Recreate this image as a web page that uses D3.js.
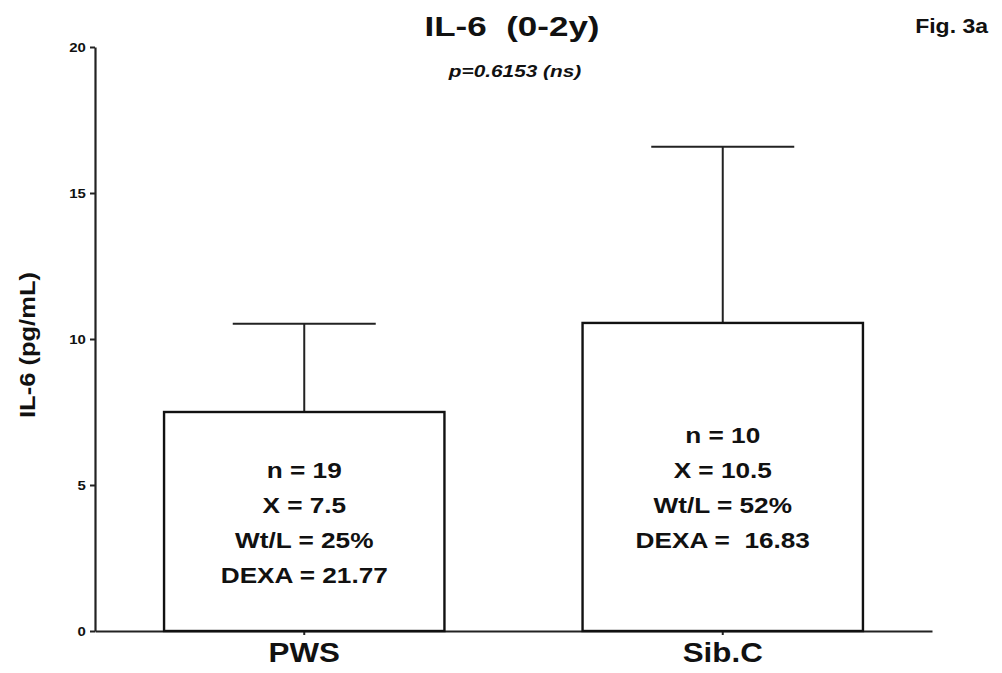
<!DOCTYPE html>
<html>
<head>
<meta charset="utf-8">
<script src="https://cdn.jsdelivr.net/npm/d3@7"></script>
<style>
  body { margin: 0; background: #fff; }
  text { font-family: "Liberation Sans", Arial, sans-serif; font-weight: bold; fill: #111; }
</style>
</head>
<body>
<div id="grafica"></div>
<script>
// datos
var grupos = ['PWS', 'Sib.C']
var medias = [7.5, 10.55]
var errores = [10.52, 16.58]
var etiquetas = [
    ['n = 19', 'X = 7.5', 'Wt/L = 25%', 'DEXA = 21.77'],
    ['n = 10', 'X = 10.5', 'Wt/L = 52%', 'DEXA =  16.83']
]
var etiquetaY = [5.5, 6.7]   // altura (en pg/mL) de la primera linea de texto
var ticksY = [0, 5, 10, 15, 20]

var W = 1002, H = 673
var fuente = '"Liberation Sans", Arial, sans-serif'

var svg = d3.select('#grafica').append('svg')
    .attr('width', W)
    .attr('height', H)

// la figura original esta algo estirada en horizontal
function texto(x, y, t, size, sx, anchor, extra) {
    var g = svg.append('g')
        .attr('transform', 'translate(' + x + ',' + y + ')' + (extra || '') + ' scale(' + sx + ',1)')
    return g.append('text')
        .attr('text-anchor', anchor || 'middle')
        .style('font-size', size + 'px')
        .style('white-space', 'pre')
        .text(t)
}

var x = d3.scaleBand()
    .domain(grupos)
    .range([95, 932])
    .paddingInner(0.33)
    .paddingOuter(0.165)

var y = d3.scaleLinear()
    .domain([0, 20])
    .range([631, 47])

// ejes
var ejeY = svg.append('g')
    .attr('transform', 'translate(95,0)')
    .call(d3.axisLeft(y).tickValues(ticksY).tickSize(5).tickPadding(3).tickSizeOuter(0))
ejeY.select('.domain').attr('stroke', '#222').attr('stroke-width', 2.2)
ejeY.selectAll('.tick line').attr('stroke', '#222').attr('stroke-width', 2)
ejeY.selectAll('.tick text')
    .style('font-size', '13px').style('font-family', fuente).style('font-weight', 'bold')
    .attr('fill', '#111')
    .attr('transform', 'scale(1.15,1)')

var ejeX = svg.append('g')
    .attr('transform', 'translate(0,631)')
    .call(d3.axisBottom(x).tickSize(4).tickSizeOuter(0).tickPadding(8))
ejeX.select('.domain').attr('stroke', '#222').attr('stroke-width', 2.2)
ejeX.selectAll('.tick line').attr('stroke', '#222').attr('stroke-width', 2)
ejeX.selectAll('.tick text')
    .style('font-size', '27px').style('font-family', fuente).style('font-weight', 'bold')
    .attr('fill', '#111')
    .attr('transform', 'scale(1.16,1)')

var datos = grupos.map(function (g, i) {
    return { grupo: g, media: medias[i], error: errores[i], lineas: etiquetas[i], ly: etiquetaY[i] }
})

// barras de error (solo hacia arriba)
var barras = svg.selectAll('g.barra')
    .data(datos)
    .enter()
    .append('g')
    .attr('class', 'barra')

barras.append('line')
    .attr('x1', function (d) { return x(d.grupo) + x.bandwidth() / 2 })
    .attr('x2', function (d) { return x(d.grupo) + x.bandwidth() / 2 })
    .attr('y1', function (d) { return y(d.media) })
    .attr('y2', function (d) { return y(d.error) })
    .attr('stroke', '#222')
    .attr('stroke-width', 2)

barras.append('line')
    .attr('x1', function (d) { return x(d.grupo) + x.bandwidth() * 0.245 })
    .attr('x2', function (d) { return x(d.grupo) + x.bandwidth() * 0.755 })
    .attr('y1', function (d) { return y(d.error) })
    .attr('y2', function (d) { return y(d.error) })
    .attr('stroke', '#222')
    .attr('stroke-width', 2)

barras.append('rect')
    .attr('x', function (d) { return x(d.grupo) })
    .attr('y', function (d) { return y(d.media) })
    .attr('width', x.bandwidth())
    .attr('height', function (d) { return y(0) - y(d.media) })
    .attr('fill', '#fff')
    .attr('stroke', '#111')
    .attr('stroke-width', 2.4)

datos.forEach(function (d) {
    d.lineas.forEach(function (t, i) {
        texto(x(d.grupo) + x.bandwidth() / 2, y(d.ly) + i * 35 + 8, t, 22, 1.19)
    })
})

// titulos
texto(512, 36, 'IL-6  (0-2y)', 28, 1.25)
texto(515, 77, 'p=0.6153 (ns)', 16, 1.3).style('font-style', 'italic')
texto(988, 33, 'Fig. 3a', 20, 1.15, 'end')
texto(35, 345, 'IL-6 (pg/mL)', 22, 1.16, 'middle', ' rotate(-90)')
</script>
</body>
</html>
